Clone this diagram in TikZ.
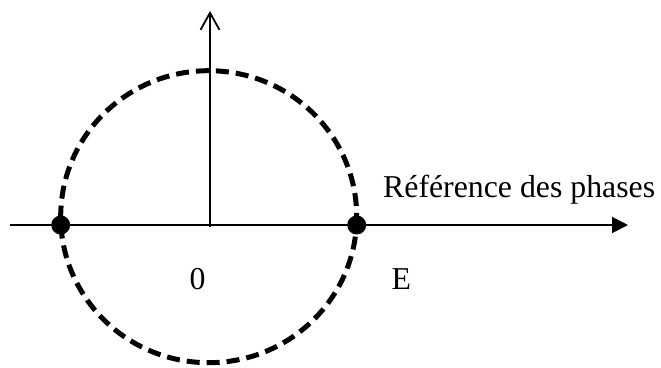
\documentclass[tikz,border=0pt]{standalone}
\usepackage{fontspec}
\setmainfont{Liberation Serif}
\usetikzlibrary{arrows.meta}
\begin{document}
\begin{tikzpicture}[x=1pt,y=-1pt,
  axisline/.style={line width=1.8pt},
  dashcircle/.style={line width=5pt,dash pattern=on 13pt off 7pt},
  dotnode/.style={circle,fill=black,inner sep=0pt,minimum size=19pt},
  lbl/.style={inner sep=0pt,font=\fontsize{31.8}{38}\selectfont}]
\useasboundingbox (0,0) rectangle (661,367);
\coordinate (O) at (210,225);
\coordinate (Lend) at (10,225);
\coordinate (Rend) at (628,225);
\coordinate (Top) at (210,11);
\coordinate (Bot) at (210,227);
\coordinate (C) at (208.7,216.7);
\draw[dashcircle] (C) ellipse [x radius=148, y radius=146];
\draw[axisline,-{Triangle[length=16pt,width=16pt]}] (Lend) -- (Rend);
\draw[axisline,-{Straight Barb[length=17pt,width=19pt,line width=1.8pt]}] (Bot) -- (Top);
\node[dotnode] (D1) at (60.7,225) {};
\node[dotnode] (D2) at (356.7,225) {};
\node[lbl,anchor=base west] (ref) at (383,197) {Référence des phases};
\node[lbl,anchor=base] (zero) at (197.5,289) {0};
\node[lbl,anchor=base west] (E) at (391.5,289) {E};
\end{tikzpicture}
\end{document}
